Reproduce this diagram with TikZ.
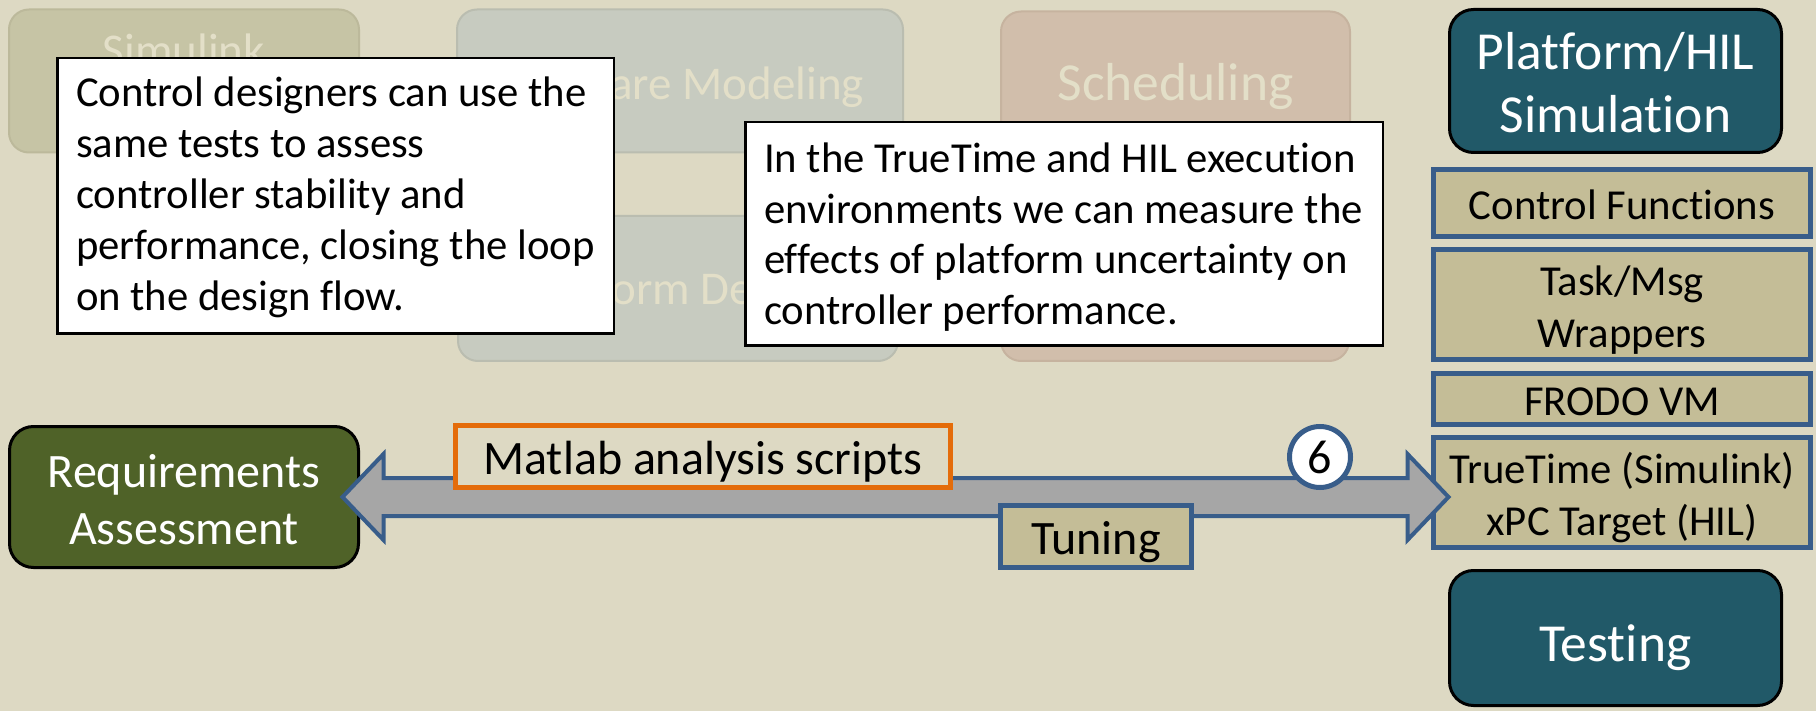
\documentclass[tikz,border=0pt]{standalone}
\usepackage{fontspec}
\setmainfont{Carlito}[Ligatures={NoCommon}]
\usetikzlibrary{calc}
\newcommand\fsz[2]{\fontsize{#1}{#2}\selectfont}

\definecolor{bgtan}{HTML}{DDD9C3}
\definecolor{tealbox}{HTML}{215968}
\definecolor{olivebox}{HTML}{4F6228}
\definecolor{khaki}{HTML}{C4BD97}
\definecolor{steel}{HTML}{385D8A}
\definecolor{orangeline}{HTML}{E46C0A}
\definecolor{arrowgray}{HTML}{A6A6A6}
\definecolor{fadeA}{HTML}{C6C4A5}
\definecolor{fadeAline}{HTML}{BCB99B}
\definecolor{fadeB}{HTML}{C7CBC0}
\definecolor{fadeBline}{HTML}{BABDB0}
\definecolor{fadeC}{HTML}{D1BEAB}
\definecolor{fadeCline}{HTML}{C6B39F}
\definecolor{fadetext}{HTML}{E3DFC8}

\begin{document}
\begin{tikzpicture}[x=1pt,y=-1pt,
  every node/.style={inner sep=0pt, outer sep=0pt},
  fadebox/.style={rectangle, rounded corners=20pt, line width=2pt},
  fadetxt/.style={anchor=base, text=fadetext, font=\fsz{47}{57}},
  note/.style={rectangle, fill=white, draw=black, line width=2.5pt},
  stage/.style={rectangle, rounded corners=24pt, draw=black, line width=3pt},
  layer/.style={rectangle, fill=khaki, draw=steel, line width=5pt},
  txt/.style={anchor=base},
  bigarrow/.style={fill=arrowgray, draw=steel, line width=4pt, line join=miter}
]
\useasboundingbox (0,0) rectangle (1816,711);
\fill[bgtan] (0,0) rectangle (1816,711);

% faded design-flow stages in the background
\node[fadebox, fill=fadeA, draw=fadeAline, minimum width=350pt, minimum height=143pt] (sim) at (184,81) {};
\node[fadebox, fill=fadeB, draw=fadeBline, minimum width=446pt, minimum height=143pt] (soft) at (680,81) {};
\node[fadebox, fill=fadeC, draw=fadeCline, minimum width=349pt, minimum height=141pt] (sched) at (1175.5,82) {};
\node[fadebox, fill=fadeB, draw=fadeBline, minimum width=440pt, minimum height=145pt] (plat) at (678,288.5) {};
\node[fadebox, fill=fadeC, draw=fadeCline, minimum width=348pt, minimum height=145pt] (schedB) at (1175,288.5) {};
\node[fadetxt] (simT) at (184,67) {Simulink};
\node[fadetxt, anchor=base east] (softT) at (864,100) {Software Modeling};
\node[fadetxt, font=\fsz{53.5}{65}] (schedT) at (1175.5,101) {Scheduling};
\node[fadetxt, anchor=base west] (platT) at (525,305) {Platform Design};

% explanatory notes
\node[note, minimum width=556.5pt, minimum height=275.5pt] (noteA) at (335.5,196) {};
\node[txt, anchor=base west] (noteAT) at (76,107)
  {\parbox[t]{600pt}{\fsz{42.7}{51}\raggedright Control designers can use the\\same tests to assess\\controller stability and\\performance, closing the loop\\on the design flow.}};
\node[note, minimum width=637.5pt, minimum height=223.5pt] (noteB) at (1064,234) {};
\node[txt, anchor=base west] (noteBT) at (764,173)
  {\parbox[t]{700pt}{\fsz{42.7}{50.5}\raggedright In the TrueTime and HIL execution\\environments we can measure the\\effects of platform uncertainty on\\controller performance.}};

% active stages
\node[stage, fill=tealbox, minimum width=332pt, minimum height=143pt] (hil) at (1615.5,81) {};
\node[txt, text=white] (hilT) at (1615.5,70) {\parbox[t]{400pt}{\centering\fsz{53.5}{63}Platform/HIL\\Simulation}};
\node[stage, fill=tealbox, minimum width=332pt, minimum height=135pt] (testing) at (1615.5,638) {};
\node[txt, text=white, font=\fsz{53.5}{63}] (testT) at (1615.5,661) {Testing};
\node[stage, fill=olivebox, minimum width=349pt, minimum height=141pt] (req) at (184,497) {};
\node[txt, text=white] (reqT) at (184,487) {\parbox[t]{400pt}{\centering\fsz{48}{57}Requirements\\Assessment}};

% platform layer stack
\node[layer, minimum width=377pt, minimum height=67pt] (cf) at (1622,203) {};
\node[txt, font=\fsz{42.7}{51}] (cfT) at (1622,220) {Control Functions};
\node[layer, minimum width=377pt, minimum height=110pt] (tm) at (1622,304.5) {};
\node[txt] (tmT) at (1622,296) {\parbox[t]{400pt}{\centering\fsz{42.7}{52}Task/Msg\\Wrappers}};
\node[layer, minimum width=377pt, minimum height=51pt] (frodo) at (1622,399) {};
\node[txt, font=\fsz{42.7}{51}] (frodoT) at (1622,415) {FRODO VM};
\node[layer, minimum width=377pt, minimum height=110pt] (tt) at (1622,492.5) {};
\node[txt] (ttT) at (1622,483) {\parbox[t]{400pt}{\centering\fsz{42.7}{52}TrueTime (Simulink)\\xPC Target (HIL)}};

% two-way block arrow between assessment and execution platform
\draw[bigarrow] let \p1 = ($(req.east)+(-16,0)$), \p2 = ($(tt.west |- req.east)+(15,0)$) in
  (\p1) -- ($(\p1)+(41,-43)$) -- ($(\p1)+(41,-19)$) -- ($(\p2)+(-41,-19)$)
  -- ($(\p2)+(-41,-43)$) -- (\p2) -- ($(\p2)+(-41,43)$) -- ($(\p2)+(-41,19)$)
  -- ($(\p1)+(41,19)$) -- ($(\p1)+(41,43)$) -- cycle;

% labels on the arrow
\node[rectangle, fill=bgtan, draw=orangeline, line width=5pt, minimum width=495pt, minimum height=62pt] (matlab) at (703,456.5) {};
\node[txt, font=\fsz{48}{57}] (matlabT) at (703,474) {Matlab analysis scripts};
\node[rectangle, fill=khaki, draw=steel, line width=5pt, minimum width=191pt, minimum height=62pt] (tuning) at (1096,536.5) {};
\node[txt, font=\fsz{48}{57}] (tuningT) at (1096,554) {Tuning};
\node[circle, fill=white, draw=steel, line width=5pt, minimum size=61pt] (six) at (1320,457) {};
\node[txt, font=\fsz{48}{57}] (sixT) at (1320,473) {6};
\end{tikzpicture}
\end{document}
